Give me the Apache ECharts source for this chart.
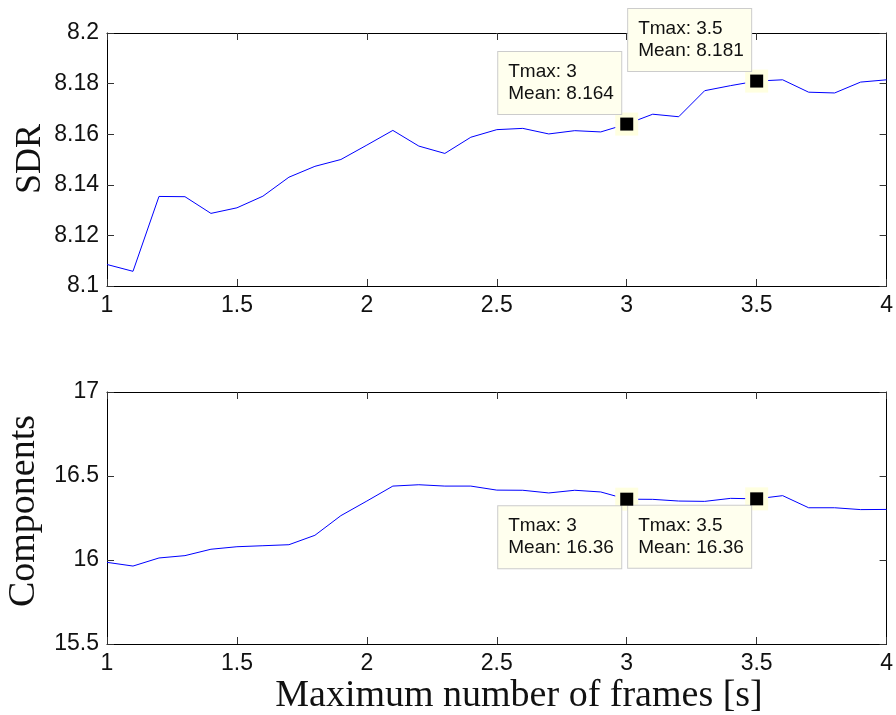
<!DOCTYPE html>
<html>
<head>
<meta charset="utf-8">
<script src="https://cdn.jsdelivr.net/npm/echarts@6/dist/echarts.min.js"></script>
<style>html,body{margin:0;padding:0;background:#fff;}#c{width:896px;height:715px;}</style>
</head>
<body>
<div id="c"></div>
<script>
var tmax = [1.0, 1.1, 1.2, 1.3, 1.4, 1.5, 1.6, 1.7, 1.8, 1.9, 2.0, 2.1, 2.2, 2.3, 2.4, 2.5,
            2.6, 2.7, 2.8, 2.9, 3.0, 3.1, 3.2, 3.3, 3.4, 3.5, 3.6, 3.7, 3.8, 3.9, 4.0];
var sdr = [8.1085, 8.1058, 8.1354, 8.1353, 8.1287, 8.1309, 8.1355, 8.1430, 8.1473, 8.1500,
           8.1557, 8.1615, 8.1553, 8.1524, 8.1588, 8.1618, 8.1623, 8.1601, 8.1614, 8.1609,
           8.164, 8.1679, 8.1669, 8.1772, 8.1792, 8.181, 8.1815, 8.1766, 8.1763, 8.1806, 8.1815];
var comp = [15.986, 15.964, 16.012, 16.026, 16.064, 16.079, 16.085, 16.091, 16.147, 16.264,
            16.351, 16.440, 16.448, 16.440, 16.440, 16.416, 16.415, 16.399, 16.415, 16.405,
            16.362, 16.361, 16.351, 16.349, 16.367, 16.364, 16.383, 16.311, 16.311, 16.300, 16.301];
var highlightT = [3.0, 3.5];
var xTitle = 'Maximum number of frames [s]';
var yTitles = ['SDR', 'Components'];

var hiIdx = highlightT.map(function (t) {
  return tmax.findIndex(function (v) { return Math.abs(v - t) < 1e-9; });
});
function pairs(ys) { return tmax.map(function (t, i) { return [t, ys[i]]; }); }
function hiPairs(ys) { return hiIdx.map(function (i) { return [tmax[i], ys[i]]; }); }

var SANS = 'Liberation Sans, Arial, sans-serif';
var SERIF = 'Liberation Serif, Times New Roman, serif';

function xAx(g, pos, showLabel) {
  return {
    type: 'value', gridIndex: g, min: 1, max: 4, interval: 0.5, position: pos,
    axisLine: { show: true, onZero: false, lineStyle: { color: '#000', width: 1 } },
    axisTick: { show: true, inside: true, length: 7, lineStyle: { color: '#333', width: 1 } },
    axisLabel: { show: showLabel, margin: 8, fontSize: 23, color: '#111', fontFamily: SANS },
    splitLine: { show: false }
  };
}
function yAx(g, pos, showLabel, mn, mx, iv) {
  return {
    type: 'value', gridIndex: g, min: mn, max: mx, interval: iv, position: pos,
    axisLine: { show: true, onZero: false, lineStyle: { color: '#000', width: 1 } },
    axisTick: { show: true, inside: true, length: 7, lineStyle: { color: '#333', width: 1 } },
    axisLabel: { show: showLabel, margin: 8, fontSize: 23, color: '#111', fontFamily: SANS },
    splitLine: { show: false }
  };
}

var boxLabel = function (vAlign, relY) {
  return {
    show: true,
    position: [-117, relY],
    align: 'left',
    verticalAlign: vAlign,
    formatter: function (p) {
      return 'Tmax: ' + p.value[0] + '\nMean: ' + p.value[1].toPrecision(4);
    },
    fontSize: 19, lineHeight: 22, color: '#111', fontFamily: SANS,
    backgroundColor: '#ffffee', borderColor: '#cccccc', borderWidth: 1,
    padding: [9, 9, 9, 10], width: 104
  };
};

function lineSeries(g, ys) {
  return {
    type: 'line', xAxisIndex: g * 2, yAxisIndex: g * 2, data: pairs(ys),
    showSymbol: false, symbol: 'none', silent: true, z: 2,
    lineStyle: { color: '#0000ff', width: 1 }
  };
}
function haloSeries(g, ys, vAlign, relY) {
  return {
    type: 'scatter', xAxisIndex: g * 2, yAxisIndex: g * 2, data: hiPairs(ys),
    symbol: 'rect', symbolSize: 23, silent: true, z: 3,
    itemStyle: { color: '#ffffe0', opacity: 1 },
    label: boxLabel(vAlign, relY)
  };
}
function dotSeries(g, ys) {
  return {
    type: 'scatter', xAxisIndex: g * 2, yAxisIndex: g * 2, data: hiPairs(ys),
    symbol: 'rect', symbolSize: 13, silent: true, z: 4,
    itemStyle: { color: '#000', opacity: 1 }
  };
}

var chart = echarts.init(document.getElementById('c'), null, { renderer: 'canvas' });
chart.setOption({
  backgroundColor: '#fff',
  animation: false,
  grid: [
    { left: 107, top: 33, width: 782, height: 253 },
    { left: 107, top: 392, width: 782, height: 252 }
  ],
  xAxis: [xAx(0, 'bottom', true), xAx(0, 'top', false), xAx(1, 'bottom', true), xAx(1, 'top', false)],
  yAxis: [
    yAx(0, 'left', true, 8.1, 8.2, 0.02), yAx(0, 'right', false, 8.1, 8.2, 0.02),
    yAx(1, 'left', true, 15.5, 17, 0.5), yAx(1, 'right', false, 15.5, 17, 0.5)
  ],
  series: [
    lineSeries(0, sdr), haloSeries(0, sdr, 'bottom', 1.5), dotSeries(0, sdr),
    lineSeries(1, comp), haloSeries(1, comp, 'top', 18.5), dotSeries(1, comp)
  ],
  graphic: [
    { type: 'text', x: 31, y: 159, rotation: Math.PI / 2,
      style: { text: yTitles[0], font: '36px ' + SERIF, fill: '#111', textAlign: 'center', textVerticalAlign: 'middle' } },
    { type: 'text', x: 24, y: 511, rotation: Math.PI / 2,
      style: { text: yTitles[1], font: '38px ' + SERIF, fill: '#111', textAlign: 'center', textVerticalAlign: 'middle' } },
    { type: 'text', x: 519, y: 696,
      style: { text: xTitle, font: '38px ' + SERIF, fill: '#111', textAlign: 'center', textVerticalAlign: 'middle' } }
  ]
});
</script>
</body>
</html>
